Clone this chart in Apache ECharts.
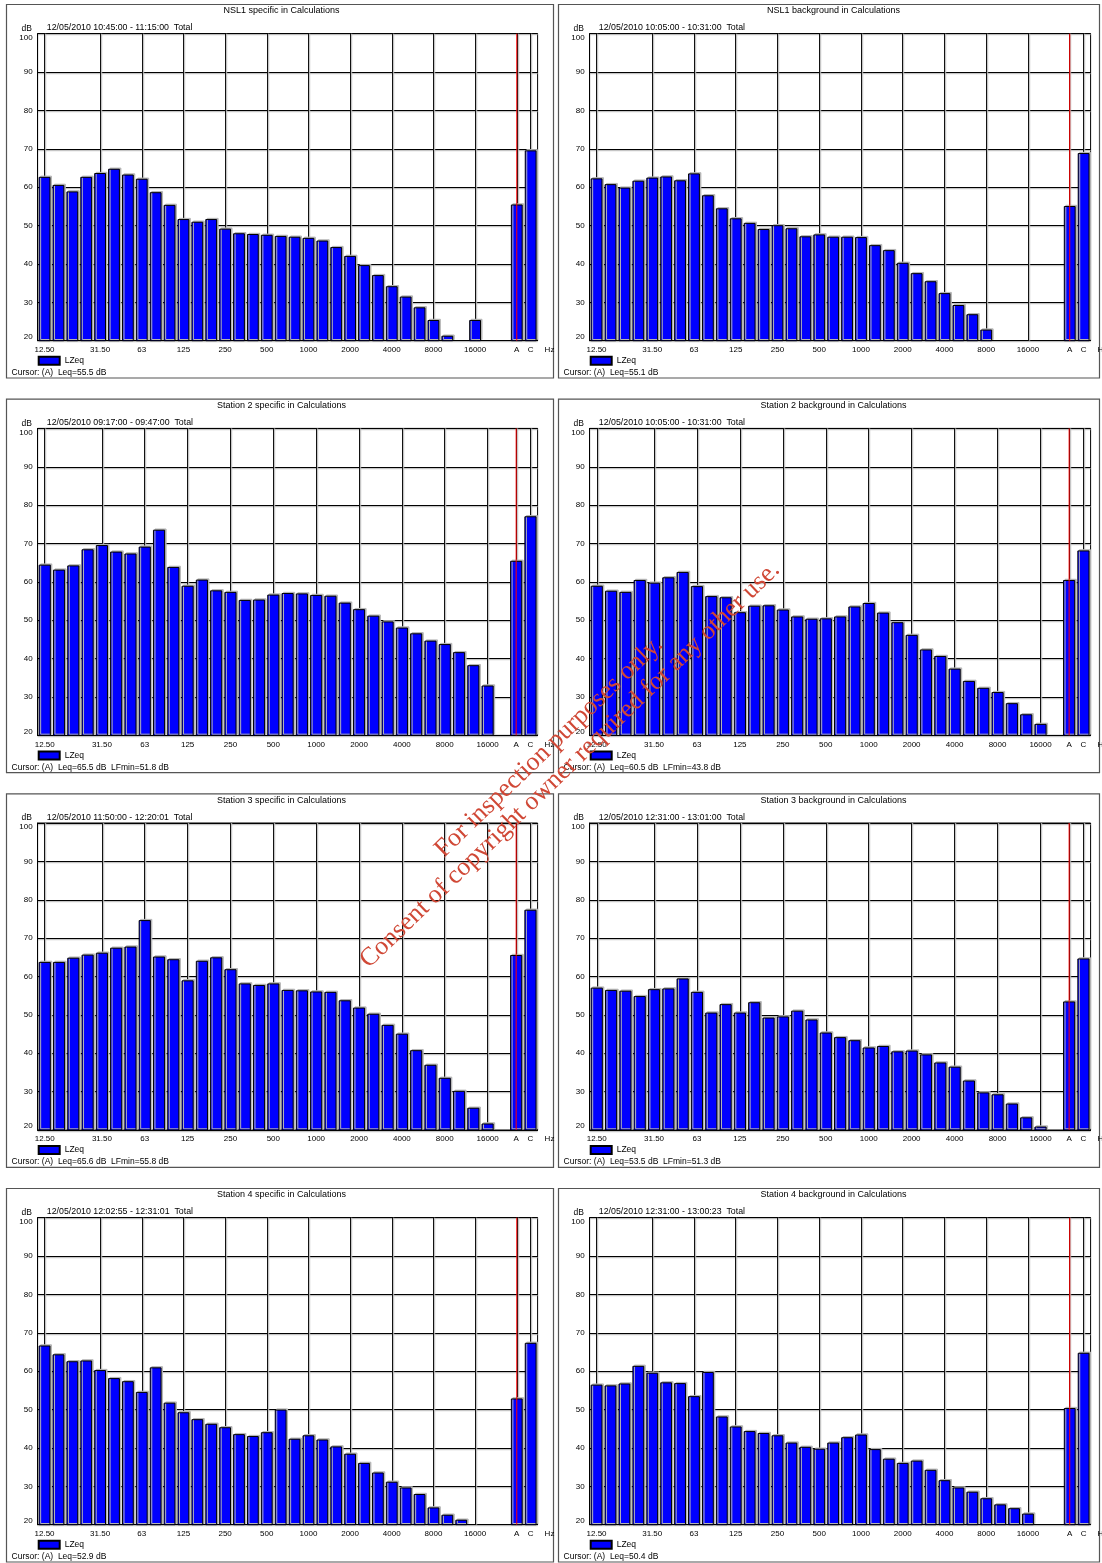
<!DOCTYPE html>
<html><head><meta charset="utf-8">
<script src="https://cdn.jsdelivr.net/npm/echarts@6/dist/echarts.min.js"></script>
<style>html,body{margin:0;padding:0;background:#fff}#c{width:1102px;height:1563px}</style>
</head><body><div id="c"></div>
<script>
// Third-octave band centre frequencies (category labels)
const bands = ['12.50','16','20','25','31.50','40','50','63','80','100','125','160','200','250','315','400','500','630','800','1000','1250','1600','2000','2500','3150','4000','5000','6300','8000','10000','12500','16000','20000'];
// Labels (and vertical grid lines) shown on the frequency axis
const tickLabels = ['12.50','31.50','63','125','250','500','1000','2000','4000','8000','16000','A','C'];

const panelTitles = [
  'NSL1 specific in Calculations','NSL1 background in Calculations',
  'Station 2 specific in Calculations','Station 2 background in Calculations',
  'Station 3 specific in Calculations','Station 3 background in Calculations',
  'Station 4 specific in Calculations','Station 4 background in Calculations'
];
const periods = [
  '12/05/2010 10:45:00 - 11:15:00  Total','12/05/2010 10:05:00 - 10:31:00  Total',
  '12/05/2010 09:17:00 - 09:47:00  Total','12/05/2010 10:05:00 - 10:31:00  Total',
  '12/05/2010 11:50:00 - 12:20:01  Total','12/05/2010 12:31:00 - 13:01:00  Total',
  '12/05/2010 12:02:55 - 12:31:01  Total','12/05/2010 12:31:00 - 13:00:23  Total'
];
const cursorTexts = [
  'Cursor: (A)  Leq=55.5 dB','Cursor: (A)  Leq=55.1 dB',
  'Cursor: (A)  Leq=65.5 dB  LFmin=51.8 dB','Cursor: (A)  Leq=60.5 dB  LFmin=43.8 dB',
  'Cursor: (A)  Leq=65.6 dB  LFmin=55.8 dB','Cursor: (A)  Leq=53.5 dB  LFmin=51.3 dB',
  'Cursor: (A)  Leq=52.9 dB','Cursor: (A)  Leq=50.4 dB'
];
// whether the panel has an empty slot between 20000 Hz and the A total
const gapBeforeTotals = [true,true,false,false,false,false,true,true];

// LZeq per band (dB)
const nsl1Specific = [62.7,60.6,58.9,62.7,63.7,64.8,63.3,62.2,58.7,55.4,51.7,51.0,51.7,49.2,48.0,47.8,47.6,47.3,47.1,46.8,46.1,44.4,42.1,39.7,37.1,34.2,31.5,28.7,25.4,21.3,null,25.4,null];
const nsl1Background = [62.3,60.8,59.9,61.7,62.5,62.8,61.8,63.6,57.9,54.5,51.9,50.7,49.1,50.1,49.3,47.2,47.7,47.1,47.1,47.0,44.9,43.6,40.3,37.6,35.5,32.4,29.3,26.9,22.9,null,null,null,null];
const station2Specific = [64.5,63.2,64.3,68.5,69.6,67.9,67.4,69.2,73.6,63.9,59.0,60.6,57.8,57.4,55.3,55.4,56.7,57.1,57.0,56.6,56.4,54.6,52.9,51.2,49.7,48.1,46.6,44.7,43.8,41.7,38.3,33.0,null];
const station2Background = [59.0,57.7,57.4,60.5,59.8,61.2,62.6,58.9,56.3,56.0,52.1,53.8,53.9,52.8,51.0,50.4,50.5,51.0,53.6,54.5,52.0,49.5,46.2,42.4,40.7,37.4,34.2,32.4,31.3,28.4,25.5,23.0,null];
const station3Specific = [63.8,63.8,64.9,65.7,66.2,67.5,67.8,74.7,65.2,64.5,59.0,64.1,65.0,61.9,58.2,57.8,58.2,56.5,56.4,56.1,56.0,53.8,51.9,50.3,47.4,45.1,40.8,37.0,33.6,30.2,25.8,21.7,null];
const station3Background = [57.1,56.5,56.3,54.9,56.7,56.9,59.5,56.0,50.6,52.8,50.6,53.3,49.3,49.6,51.1,48.8,45.4,44.2,43.4,41.5,41.9,40.5,40.7,39.7,37.6,36.5,32.9,29.8,29.3,26.9,23.3,20.9,null];
const station4Specific = [66.7,64.4,62.6,62.8,60.3,58.2,57.4,54.6,61.0,51.8,49.3,47.5,46.3,45.4,43.6,43.1,44.1,50.0,42.4,43.3,42.2,40.4,38.5,36.1,33.6,31.2,29.7,28.0,24.5,22.6,21.3,null,null];
const station4Background = [56.5,56.3,56.8,61.4,59.6,57.1,56.9,53.5,59.8,48.2,45.6,44.4,43.9,43.3,41.4,40.3,39.8,41.4,42.8,43.5,39.7,37.2,36.1,36.7,34.3,31.6,29.7,28.6,26.9,25.3,24.3,22.9,null];
// Broadband totals
const aTotals = [55.5,55.1,65.5,60.5,65.6,53.5,52.9,50.4];
const cTotals = [69.6,68.9,77.1,68.2,77.4,64.7,67.4,64.8];
// Cursor position (category) and the dB range it spans
const cursorCategory = 'A';
const cursorRange = [20, 100];

const bandSeries = [nsl1Specific,nsl1Background,station2Specific,station2Background,station3Specific,station3Background,station4Specific,station4Background];

const FONT = '"Liberation Sans", Arial, sans-serif';
const colX = [0, 552];
const rowY = [0, 394.7, 789.3, 1184];
const tickSet = new Set(tickLabels);

const grids = [], xAxes = [], yAxes = [], series = [], legends = [], graphics = [];

for (let p = 0; p < 8; p++) {
  const ox = colX[p % 2], oy = rowY[Math.floor(p / 2)];
  const cats = bands.concat(gapBeforeTotals[p] ? [''] : [], ['A', 'C']);
  const vals = bandSeries[p].concat(gapBeforeTotals[p] ? [null] : [], [aTotals[p], cTotals[p]]);
  const cIdx = cats.indexOf(cursorCategory);
  const show = (i, v) => tickSet.has(v);

  grids.push({left: ox + 37.6, top: oy + 33.7, width: p % 2 ? 501 : 500, height: 307,
    show: true, borderColor: '#000', borderWidth: 1, backgroundColor: 'transparent', outerBoundsMode: 'none'});

  xAxes.push({type: 'category', gridIndex: p, data: cats, boundaryGap: true,
    name: 'Hz', nameLocation: 'end', nameGap: 7,
    nameTextStyle: {fontSize: 8, fontFamily: FONT, color: '#000', verticalAlign: 'top', padding: [5, 0, 0, 0]},
    axisLine: {show: true, lineStyle: {color: '#000', width: 1}},
    axisTick: {show: true, alignWithLabel: true, inside: true, length: 307, interval: show,
      lineStyle: {color: '#111', width: 1, shadowColor: '#b8b8b8', shadowOffsetX: 1.2, shadowBlur: 0}},
    axisLabel: {show: true, interval: show, fontSize: 8, fontFamily: FONT, color: '#000', margin: 5},
    splitLine: {show: false}
  });

  yAxes.push({type: 'value', gridIndex: p, min: 20, max: 100, interval: 10,
    axisLine: {show: true, lineStyle: {color: '#000'}},
    axisTick: {show: false},
    axisLabel: {fontSize: 8, fontFamily: FONT, color: '#000', margin: 5,
      verticalAlignMinLabel: 'bottom', verticalAlignMaxLabel: 'top'},
    splitLine: {show: true, lineStyle: {color: '#000', width: 1, shadowColor: '#b8b8b8', shadowOffsetY: 1.2, shadowBlur: 0}}
  });

  series.push({type: 'bar', id: 'lzeq' + p, name: 'LZeq', xAxisIndex: p, yAxisIndex: p, data: vals,
    barCategoryGap: '15%', z: 2,
    itemStyle: {color: '#0000ff', borderColor: '#000', borderWidth: 1,
      shadowColor: '#b4b4b4', shadowOffsetX: 1.5, shadowOffsetY: -1.2, shadowBlur: 0}
  });
  // red cursor line at the A total, drawn through the axis scales
  series.push({type: 'line', id: 'cursor' + p, name: 'cursor', xAxisIndex: p, yAxisIndex: p, z: 5,
    data: [[cIdx, cursorRange[0]], [cIdx, cursorRange[1]]],
    symbol: 'none', silent: true, clip: false,
    lineStyle: {color: '#ff0000', width: 1, type: 'solid'}
  });

  legends.push({data: ['LZeq'], left: ox + 37.7, top: oy + 355.7, padding: 0,
    itemWidth: 21, itemHeight: 8, icon: 'rect', itemGap: 5,
    textStyle: {fontSize: 8.5, fontFamily: FONT, color: '#000'}, selectedMode: false});

  graphics.push({type: 'rect', z: 0, silent: true,
    shape: {x: ox + 6.5, y: oy + 4.5, width: p % 2 ? 541 : 547, height: 373.5},
    style: {fill: 'none', stroke: '#555', lineWidth: 1.2}});
  graphics.push({type: 'text', x: ox + 281.5, y: oy + 11,
    style: {text: panelTitles[p], font: '9px ' + FONT, fill: '#000', align: 'center', verticalAlign: 'middle'}});
  graphics.push({type: 'text', x: ox + 46.8, y: oy + 28,
    style: {text: periods[p], font: '8.8px ' + FONT, fill: '#000', align: 'left', verticalAlign: 'middle'}});
  graphics.push({type: 'text', x: ox + 32, y: oy + 28.5,
    style: {text: 'dB', font: '8.5px ' + FONT, fill: '#000', align: 'right', verticalAlign: 'middle'}});
  graphics.push({type: 'text', x: ox + 11.6, y: oy + 372.7,
    style: {text: cursorTexts[p], font: '8.5px ' + FONT, fill: '#000', align: 'left', verticalAlign: 'middle'}});
}

// Watermark
const wmAngle = 44 * Math.PI / 180;
const wmFont = '26px "Liberation Serif", "Times New Roman", serif';
graphics.push({type: 'text', z: 100, x: 549, y: 747, rotation: wmAngle,
  style: {text: 'For inspection purposes only.', font: wmFont, fill: '#d04836', align: 'center', verticalAlign: 'middle'}});
graphics.push({type: 'text', z: 100, x: 570, y: 765, rotation: wmAngle,
  style: {text: 'Consent of copyright owner required for any other use.', font: wmFont, fill: '#d04836', align: 'center', verticalAlign: 'middle'}});

const chart = echarts.init(document.getElementById('c'), null, {renderer: 'canvas'});
chart.setOption({
  animation: false,
  backgroundColor: '#fff',
  grid: grids, xAxis: xAxes, yAxis: yAxes, series: series, legend: legends,
  graphic: {elements: graphics}
});
</script></body></html>
